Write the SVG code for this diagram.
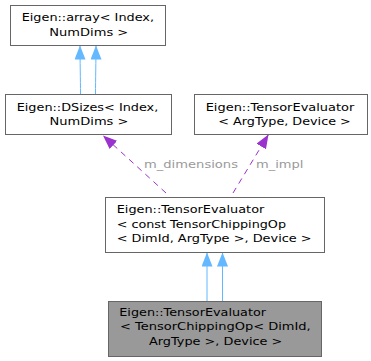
<svg xmlns="http://www.w3.org/2000/svg" width="371" height="361" viewBox="0 0 371 361">
  <style>
    .box { fill: #ffffff; stroke: #666666; stroke-width: 1; }
    .cur { fill: #999999; stroke: #666666; stroke-width: 1; }
    text { font-family: "DejaVu Sans", "Liberation Sans", sans-serif; font-size: 11px; fill: #000000; }
    .lbl { fill: #9a9a9a; }
    .inh { fill: none; stroke: #63b8ff; stroke-width: 1; }
    .use { fill: none; stroke: #9a32cd; stroke-width: 1; stroke-dasharray: 6,5; }
  </style>
  <defs>
    <marker id="ahBlue" markerUnits="userSpaceOnUse" markerWidth="15" markerHeight="12" refX="14" refY="5.5" orient="auto">
      <path d="M0,0 L14,5.5 L0,11 Z" fill="#63b8ff"/>
    </marker>
    <marker id="ahPurple" markerUnits="userSpaceOnUse" markerWidth="15" markerHeight="12" refX="14" refY="5.5" orient="auto">
      <path d="M0,0 L14,5.5 L0,11 Z" fill="#9a32cd"/>
    </marker>
  </defs>

  <g id="connectors">
    <path class="inh" d="M80.5,94 C80.5,80 80,60 80,45.5" marker-end="url(#ahBlue)"/>
    <path class="inh" d="M95.5,94 C95.5,80 96,60 96,45.5" marker-end="url(#ahBlue)"/>
    <path class="inh" d="M207,301 L207,252.5" marker-end="url(#ahBlue)"/>
    <path class="inh" d="M222.5,301 L222.5,252.5" marker-end="url(#ahBlue)"/>
    <path class="use" d="M166,193 L103,135.5" marker-end="url(#ahPurple)"/>
    <path class="use" d="M233,193 L268.5,134.5" marker-end="url(#ahPurple)"/>
    <text class="lbl" x="144" y="168" textLength="94" lengthAdjust="spacingAndGlyphs">m_dimensions</text>
    <text class="lbl" x="256" y="168" textLength="47.5" lengthAdjust="spacingAndGlyphs">m_impl</text>
  </g>

  <g id="node_array">
    <rect class="box" x="10.5" y="5.5" width="155" height="40"/>
    <text x="21.7" y="21" textLength="132.3" lengthAdjust="spacingAndGlyphs">Eigen::array&lt; Index,</text>
    <text x="49.3" y="35.5" textLength="79" lengthAdjust="spacingAndGlyphs">NumDims &gt;</text>
  </g>

  <g id="node_dsizes">
    <rect class="box" x="5.5" y="94.5" width="166" height="40"/>
    <text x="16.7" y="110.5" textLength="141.6" lengthAdjust="spacingAndGlyphs">Eigen::DSizes&lt; Index,</text>
    <text x="49.5" y="125" textLength="79" lengthAdjust="spacingAndGlyphs">NumDims &gt;</text>
  </g>

  <g id="node_argeval">
    <rect class="box" x="194.5" y="94.5" width="173" height="40"/>
    <text x="205.7" y="110.5" textLength="148.6" lengthAdjust="spacingAndGlyphs">Eigen::TensorEvaluator</text>
    <text x="218.3" y="125" textLength="132.5" lengthAdjust="spacingAndGlyphs">&lt; ArgType, Device &gt;</text>
  </g>

  <g id="node_consteval">
    <rect class="box" x="105.5" y="197.5" width="219" height="55"/>
    <text x="116.7" y="213" textLength="147.6" lengthAdjust="spacingAndGlyphs">Eigen::TensorEvaluator</text>
    <text x="116.7" y="227.5" textLength="169.3" lengthAdjust="spacingAndGlyphs">&lt; const TensorChippingOp</text>
    <text x="116.7" y="242" textLength="195" lengthAdjust="spacingAndGlyphs">&lt; DimId, ArgType &gt;, Device &gt;</text>
  </g>

  <g id="node_chipeval">
    <rect class="cur" x="108.5" y="301.5" width="213" height="55"/>
    <text x="119.3" y="315.5" textLength="146.7" lengthAdjust="spacingAndGlyphs">Eigen::TensorEvaluator</text>
    <text x="120" y="330" textLength="190.7" lengthAdjust="spacingAndGlyphs">&lt; TensorChippingOp&lt; DimId,</text>
    <text x="149" y="344.5" textLength="133.3" lengthAdjust="spacingAndGlyphs">ArgType &gt;, Device &gt;</text>
  </g>
</svg>
